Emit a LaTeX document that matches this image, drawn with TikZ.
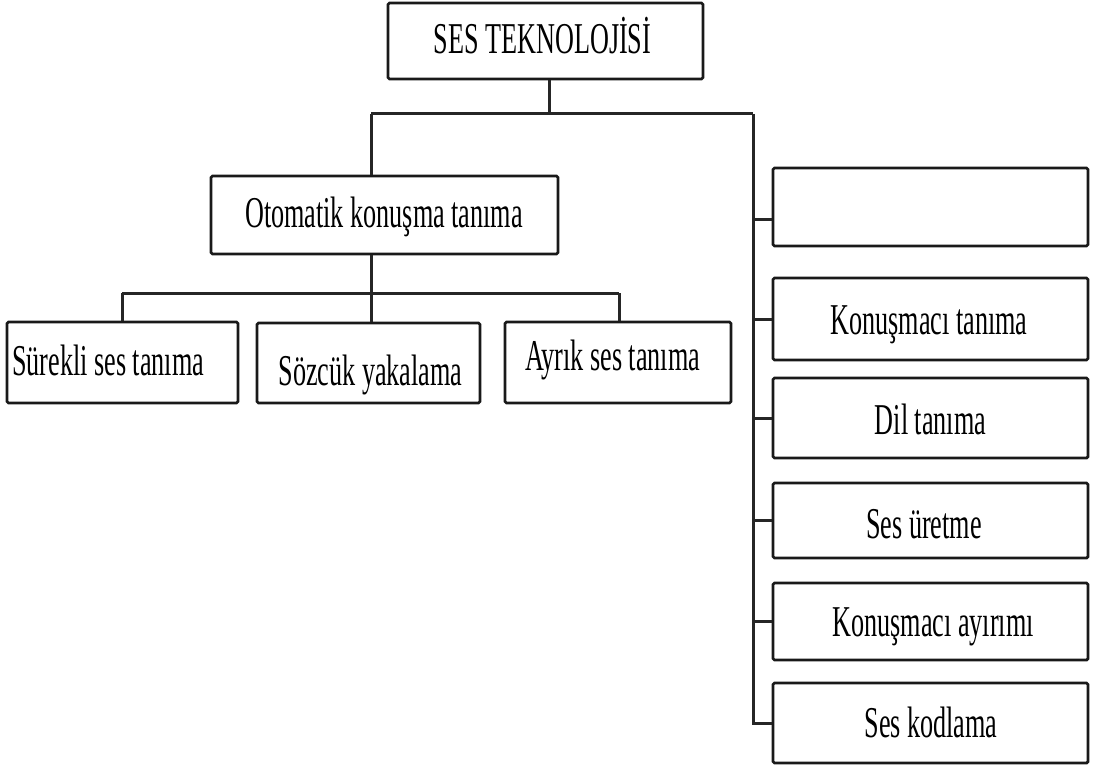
\documentclass[tikz,border=0pt]{standalone}
\usepackage{fontspec}
\setmainfont[FakeStretch=0.595]{Liberation Serif}
\begin{document}
\begin{tikzpicture}[x=1pt,y=-1pt,
  box/.style={draw=black!90,line width=2.8pt,rounded corners=1.5pt,inner sep=0pt},
  lbl/.style={inner sep=0pt,anchor=base,font=\fontsize{44}{48}\selectfont},
  wire/.style={draw=black!85,line width=3pt}]
\useasboundingbox (0,0) rectangle (1094,770);

% boxes
\node[box,minimum width=315pt,minimum height=76pt] (top) at (545.5,41) {};
\node[box,minimum width=347pt,minimum height=78pt] (oto) at (384.5,215) {};
\node[box,minimum width=231pt,minimum height=81pt] (sur) at (122.5,362.5) {};
\node[box,minimum width=223pt,minimum height=80pt] (soz) at (368.5,363) {};
\node[box,minimum width=226pt,minimum height=81pt] (ayr) at (618,362.5) {};
\node[box,minimum width=315pt,minimum height=78pt] (r0) at (930.5,207) {};
\node[box,minimum width=315pt,minimum height=82pt] (r1) at (930.5,319) {};
\node[box,minimum width=315pt,minimum height=80pt] (r2) at (930.5,418) {};
\node[box,minimum width=315pt,minimum height=75pt] (r3) at (930.5,520.5) {};
\node[box,minimum width=315pt,minimum height=77pt] (r4) at (930.5,621.5) {};
\node[box,minimum width=315pt,minimum height=80pt] (r5) at (930.5,723) {};

% labels
\node[lbl] (ttop) at (542.5,54) {SES TEKNOLOJİSİ};
\node[lbl] (toto) at (384,227) {Otomatik konuşma tanıma};
\node[lbl,anchor=base west] (tsur) at (12,375) {Sürekli ses tanıma};
\node[lbl] (tsoz) at (370.5,385) {Sözcük yakalama};
\node[lbl] (tayr) at (612.5,370) {Ayrık ses tanıma};
\node[lbl] (tr1) at (929,334) {Konuşmacı tanıma};
\node[lbl] (tr2) at (930.5,434) {Dil tanıma};
\node[lbl] (tr3) at (924,538) {Ses üretme};
\node[lbl] (tr4) at (933,636) {Konuşmacı ayırımı};
\node[lbl] (tr5) at (931,737) {Ses kodlama};

% junction points of the connectors
\coordinate (tb) at (549,114);
\coordinate (lb) at (371,114);
\coordinate (rb) at (753,114);
\coordinate (mb) at (371,293);
\coordinate (mbl) at (122,293);
\coordinate (mbr) at (619,293);
\coordinate (t0) at (753,219);

% top level
\draw[wire] (top.south -| tb) -- (tb);
\draw[wire] (lb) -- (rb);
\draw[wire] (lb) -- (lb |- oto.north);

% speech recognition branch
\draw[wire] (lb |- oto.south) -- (mb);
\draw[wire] (mbl) -- (mbr);
\draw[wire] (mbl) -- (mbl |- sur.north);
\draw[wire] (mb) -- (mb |- soz.north);
\draw[wire] (mbr) -- (mbr |- ayr.north);

% right-hand column
\draw[wire] (rb) -- (rb |- r5.west) -- (r5.west);
\draw[wire] (t0) -- (t0 -| r0.west);
\draw[wire] (rb |- r1.west) -- (r1.west);
\draw[wire] (rb |- r2.west) -- (r2.west);
\draw[wire] (rb |- r3.west) -- (r3.west);
\draw[wire] (rb |- r4.west) -- (r4.west);
\end{tikzpicture}
\end{document}
